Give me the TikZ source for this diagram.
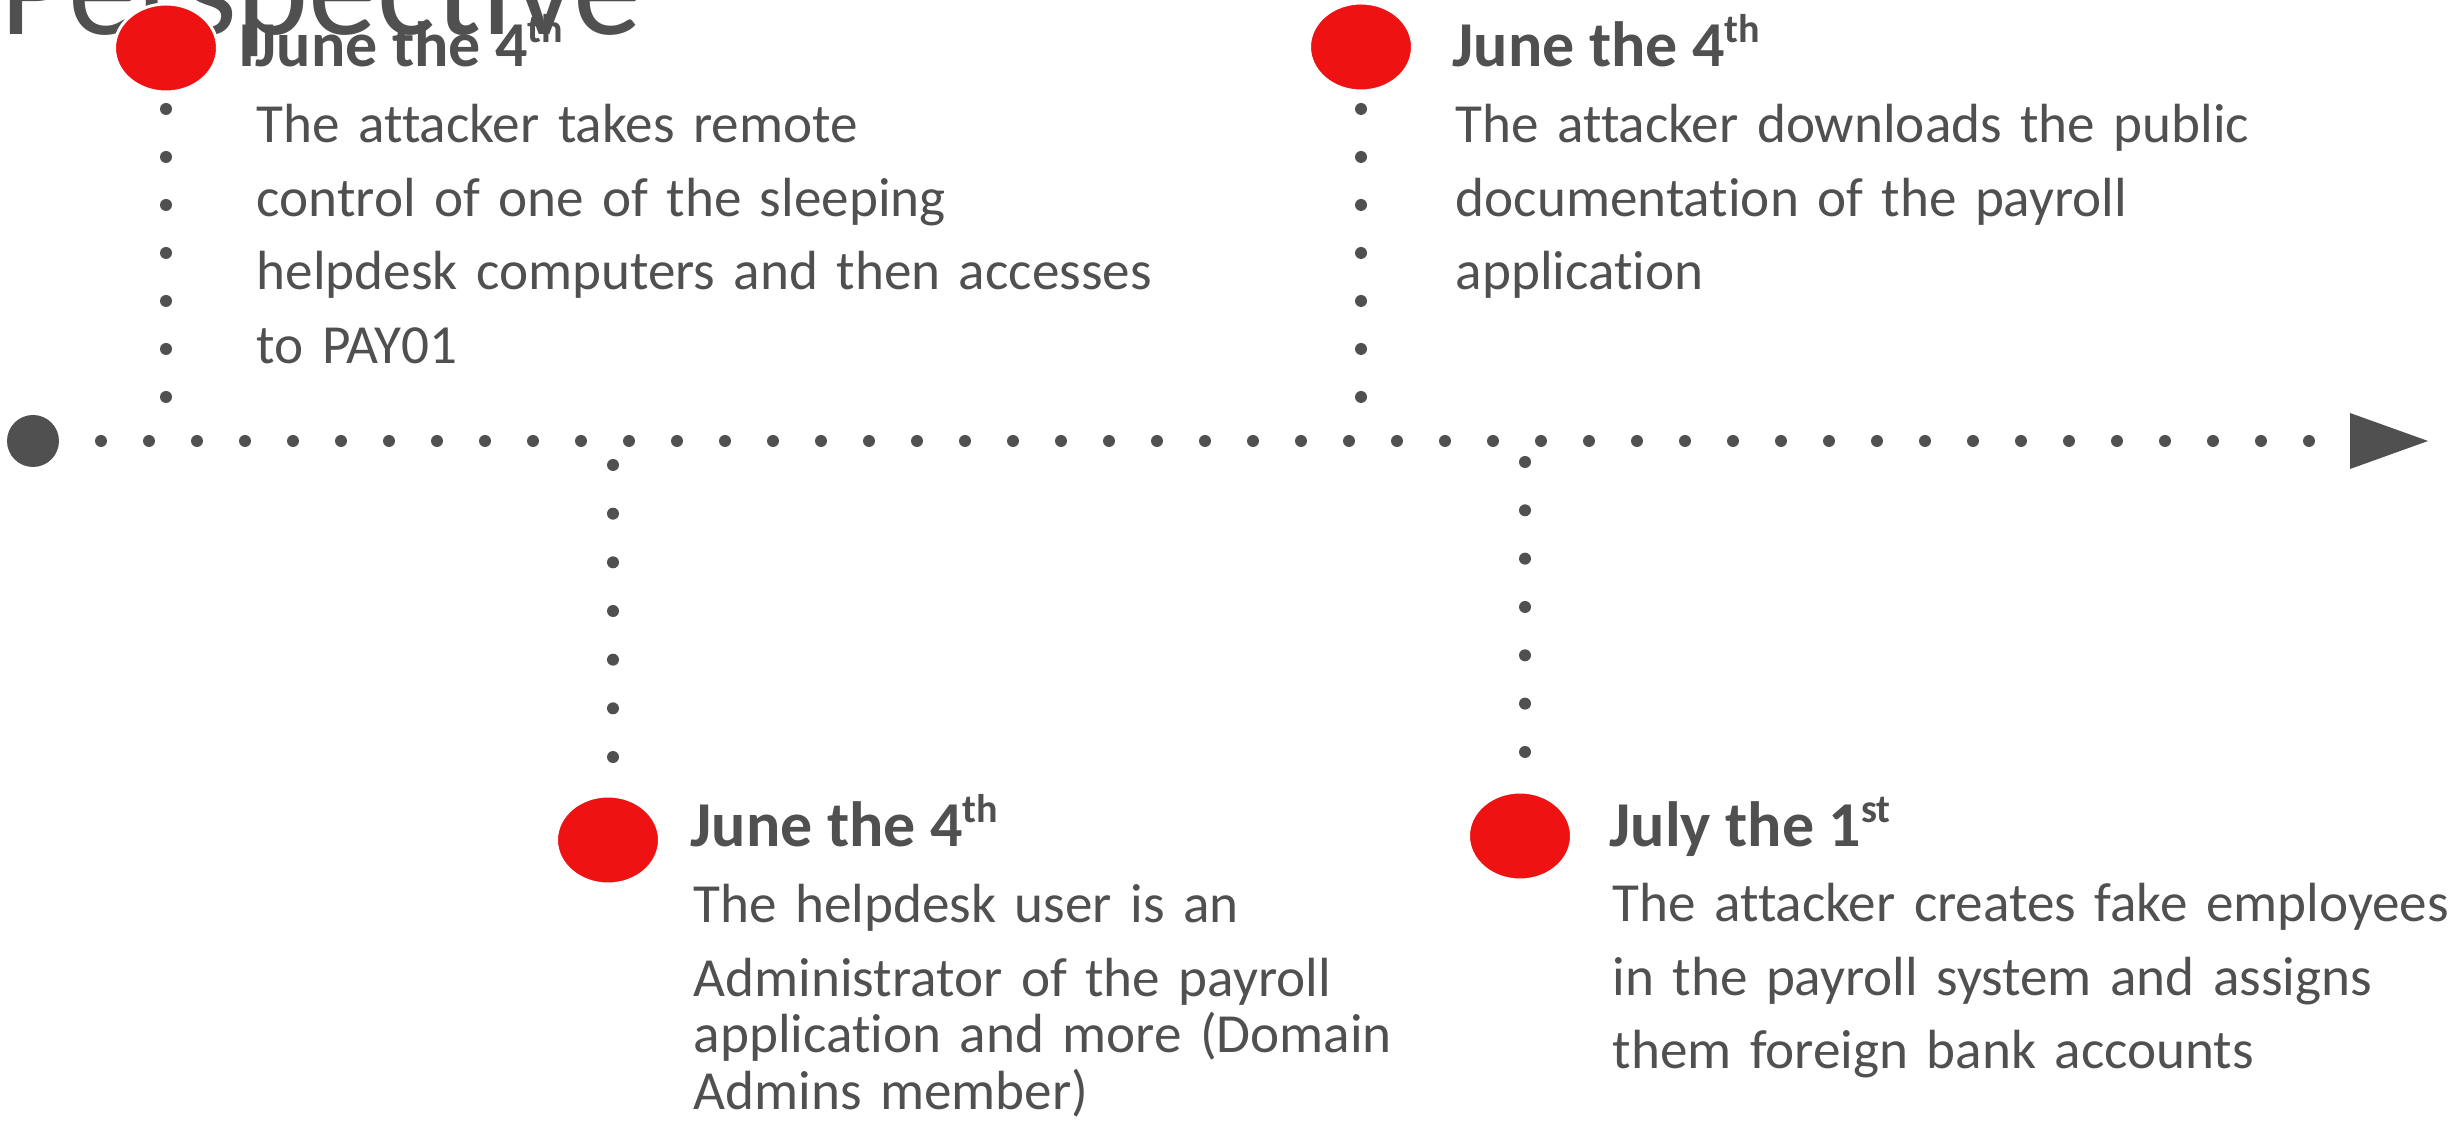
\documentclass[tikz,border=0pt]{standalone}
\usepackage{fontspec}
\setmainfont{Carlito}[Ligatures=NoCommon]
\usetikzlibrary{shapes.geometric}
\definecolor{ink}{RGB}{80,80,80}
\definecolor{mark}{RGB}{238,18,18}
\newcommand\ordsup[1]{\raisebox{2.4mm}{\fontsize{11.4pt}{12pt}\selectfont #1}}

\begin{document}
\begin{tikzpicture}[x=0.1mm,y=-0.1mm,
  dotline/.style={draw=ink, line width=1.2mm, line cap=round, dash pattern=on 0pt off 4.8mm},
  event/.style={ellipse, minimum width=10.3mm, minimum height=8.8mm, inner sep=0pt, outer sep=0pt,
    fill=mark, draw=white, line width=0.3mm},
  startdot/.style={circle, minimum size=5.2mm, inner sep=0pt, outer sep=0pt, fill=ink},
  title/.style={anchor=base west, inner sep=0pt, text=ink, font=\fontsize{39.1pt}{42pt}\selectfont},
  head/.style={anchor=base west, inner sep=0pt, text=ink, font=\fontsize{18.2pt}{22pt}\selectfont\bfseries},
  body/.style={anchor=base west, inner sep=0pt, text=ink, text width=100mm, align=left,
    font=\fontsize{15.7pt}{20.9pt}\selectfont},
]
\useasboundingbox (0,0) rectangle (2457,1123);

% slide title, partly above the page
\node[title] (title) at (0,35) {Perspective};

% event markers
\node[event] (e1) at (166,48) {};
\node[event] (e2) at (1361,47) {};
\node[event] (e3) at (608,840) {};
\node[event] (e4) at (1520,836) {};

% timeline
\node[startdot] (start) at (33,441) {};
\coordinate (end) at (2335,441);
\draw[dotline, dash phase=0.6mm] (start.east) -- (end);
\fill[ink] (2350,413) -- (2428,441) -- (2350,469) -- cycle;

% drop lines between the timeline and the markers
\coordinate (j3) at (613,441);
\coordinate (j4) at (1525,441);
\draw[dotline, shorten <=1.7mm] (e1.south) -- (e1.south |- start);
\draw[dotline, shorten <=1.8mm] (e2.south) -- (e2.south |- start);
\draw[dotline, dash pattern=on 0pt off 4.867mm, shorten <=2.4mm] (j3) -- (j3 |- e3.north);
\draw[dotline, dash pattern=on 0pt off 4.833mm, shorten <=2.1mm] (j4) -- (j4 |- e4.north);

% headings
\node[head] (h1) at (238,67) {IJune the 4\ordsup{th}};
\node[head] (h2) at (1452,67) {June the 4\ordsup{th}};
\node[head] (h3) at (690,847) {June the 4\ordsup{th}};
\node[head] (h4) at (1609,847) {July the 1\ordsup{st}};

% descriptions
\node[body] (b1) at (256,143) {The attacker takes remote\\control of one of the sleeping\\helpdesk computers and then accesses\\to PAY01};
\node[body] (b2) at (1455,143) {The attacker downloads the public\\documentation of the payroll\\application};
\node[body] (b3) at (693,923) {The helpdesk user is an\\Administrator of the payroll\\[-1.7mm]application and more (Domain\\[-1.7mm]Admins member)};
\node[body] (b4) at (1612,922) {The attacker creates fake employees\\in the payroll system and assigns\\them foreign bank accounts};
\end{tikzpicture}
\end{document}
